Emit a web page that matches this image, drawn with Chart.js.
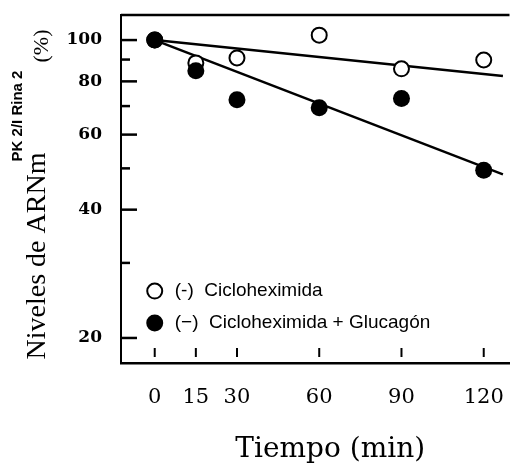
<!DOCTYPE html>
<html>
<head>
<meta charset="utf-8">
<script src="https://cdn.jsdelivr.net/npm/chart.js@4/dist/chart.umd.min.js"></script>
<style>
html,body{margin:0;padding:0;background:#fff;}
canvas{display:block;}
</style>
</head>
<body>
<canvas id="c" width="519" height="469"></canvas>
<script>
// ---- data ----
const times = [0, 15, 30, 60, 90, 120];
const cicloheximida = [100, 88.4, 90.8, 102.7, 85.6, 89.8];
const cicloGlucagon = [100, 84.7, 72.4, 69.4, 72.9, 49.5];
const trendX = [0, 127];
const trendCiclo = [100, 82.4];
const trendGlucagon = [100, 48.4];
const xTickValues = [0, 15, 30, 60, 90, 120];
const yTickValues = [20, 30, 40, 50, 60, 70, 80, 90, 100];
const yLabeledTicks = [20, 40, 60, 80, 100];
const legendLabels = ['(-)  Cicloheximida', '(\u2212)  Cicloheximida + Glucag\u00f3n'];
const yTitle = 'Niveles de ARNm';
const ySup = 'PK 2/I Rina 2';
const yUnit = '(%)';
const xTitle = 'Tiempo (min)';

const pts = (xs, ys) => xs.map((x, i) => ({x: x, y: ys[i]}));

const decor = {
  id: 'decor',
  afterDatasetsDraw(chart) {
    const {ctx, chartArea: a, scales: {x, y}} = chart;
    ctx.save();
    ctx.strokeStyle = '#000';
    // top frame line
    ctx.lineWidth = 2.5;
    ctx.beginPath(); ctx.moveTo(a.left, a.top); ctx.lineTo(a.right, a.top); ctx.stroke();
    // inward y ticks
    ctx.lineWidth = 2.5;
    yTickValues.forEach(v => {
      const py = y.getPixelForValue(v);
      const len = yLabeledTicks.includes(v) ? 16 : 9;
      ctx.beginPath(); ctx.moveTo(a.left, py); ctx.lineTo(a.left + len, py); ctx.stroke();
    });
    // inward x ticks
    ctx.lineWidth = 2;
    xTickValues.forEach(v => {
      const px = x.getPixelForValue(v);
      ctx.beginPath(); ctx.moveTo(px, a.bottom - 6); ctx.lineTo(px, a.bottom - 15); ctx.stroke();
    });
    // legend
    const lx = x.getPixelForValue(0);
    const ly1 = y.getPixelForValue(25.77), ly2 = y.getPixelForValue(21.68);
    ctx.lineWidth = 2;
    ctx.fillStyle = '#fff';
    ctx.beginPath(); ctx.arc(lx, ly1, 7.5, 0, Math.PI * 2); ctx.fill(); ctx.stroke();
    ctx.fillStyle = '#000';
    ctx.beginPath(); ctx.arc(lx, ly2, 8.5, 0, Math.PI * 2); ctx.fill();
    ctx.font = '19px "Liberation Sans"';
    ctx.textBaseline = 'middle';
    ctx.textAlign = 'left';
    ctx.fillText(legendLabels[0], lx + 20, ly1);
    ctx.fillText(legendLabels[1], lx + 20, ly2);
    ctx.restore();
  },
  afterDraw(chart) {
    const {ctx, chartArea: a} = chart;
    ctx.save();
    ctx.fillStyle = '#000';
    // x title
    ctx.font = '28px "DejaVu Serif"';
    ctx.textAlign = 'center';
    ctx.textBaseline = 'alphabetic';
    ctx.fillText(xTitle, (a.left + a.right) / 2 + 15, 457);
    // y title (rotated)
    ctx.save();
    ctx.translate(45, 256); ctx.rotate(-Math.PI / 2);
    ctx.font = '28px "Liberation Serif"';
    ctx.textAlign = 'center';
    ctx.fillText(yTitle, 0, 0);
    ctx.restore();
    ctx.save();
    ctx.translate(22, 116); ctx.rotate(-Math.PI / 2);
    ctx.font = 'bold 15px "Liberation Sans"';
    ctx.textAlign = 'center';
    ctx.fillText(ySup, 0, 0);
    ctx.restore();
    ctx.save();
    ctx.translate(48, 46); ctx.rotate(-Math.PI / 2);
    ctx.font = '22px "Liberation Serif"';
    ctx.textAlign = 'center';
    ctx.fillText(yUnit, 0, 0);
    ctx.restore();
    ctx.restore();
  }
};

const noPad = s => { s.paddingTop = 0; s.paddingBottom = 0; s.paddingLeft = 0; s.paddingRight = 0; };

new Chart(document.getElementById('c'), {
  type: 'scatter',
  data: {
    datasets: [
      {label: 'trend1', type: 'line', data: pts(trendX, trendCiclo), borderColor: '#000', borderWidth: 2.5, pointRadius: 0, fill: false, order: 3},
      {label: 'trend2', type: 'line', data: pts(trendX, trendGlucagon), borderColor: '#000', borderWidth: 2.5, pointRadius: 0, fill: false, order: 3},
      {label: legendLabels[0], data: pts(times, cicloheximida), pointRadius: 7.5, pointBackgroundColor: '#fff', pointBorderColor: '#000', pointBorderWidth: 2, order: 2},
      {label: legendLabels[1], data: pts(times, cicloGlucagon), pointRadius: 8.5, pointBackgroundColor: '#000', pointBorderColor: '#000', pointBorderWidth: 0, order: 1}
    ]
  },
  options: {
    responsive: false,
    animation: false,
    devicePixelRatio: 1,
    layout: {padding: {top: 15, right: 6, left: 0, bottom: 0}},
    plugins: {legend: {display: false}, tooltip: {enabled: false}},
    scales: {
      x: {
        type: 'linear', min: -12.3, max: 129.4,
        afterBuildTicks: s => { s.ticks = xTickValues.map(v => ({value: v})); },
        afterFit: s => { s.height = 106; noPad(s); },
        grid: {display: false, drawTicks: false},
        border: {display: true, color: '#000', width: 2.5},
        ticks: {color: '#000', padding: 22, font: {family: 'DejaVu Serif', size: 21}, maxRotation: 0, autoSkip: false}
      },
      y: {
        type: 'logarithmic', min: 17.47, max: 114.5,
        afterBuildTicks: s => { s.ticks = yTickValues.map(v => ({value: v})); },
        afterFit: s => { s.width = 121; noPad(s); },
        grid: {display: false, drawTicks: false},
        border: {display: true, color: '#000', width: 2},
        ticks: {color: '#000', padding: 19, font: {family: 'DejaVu Serif', size: 17, weight: 'bold'}, autoSkip: false,
          callback: v => yLabeledTicks.includes(v) ? String(v) : ''}
      }
    }
  },
  plugins: [decor]
});
</script>
</body>
</html>
